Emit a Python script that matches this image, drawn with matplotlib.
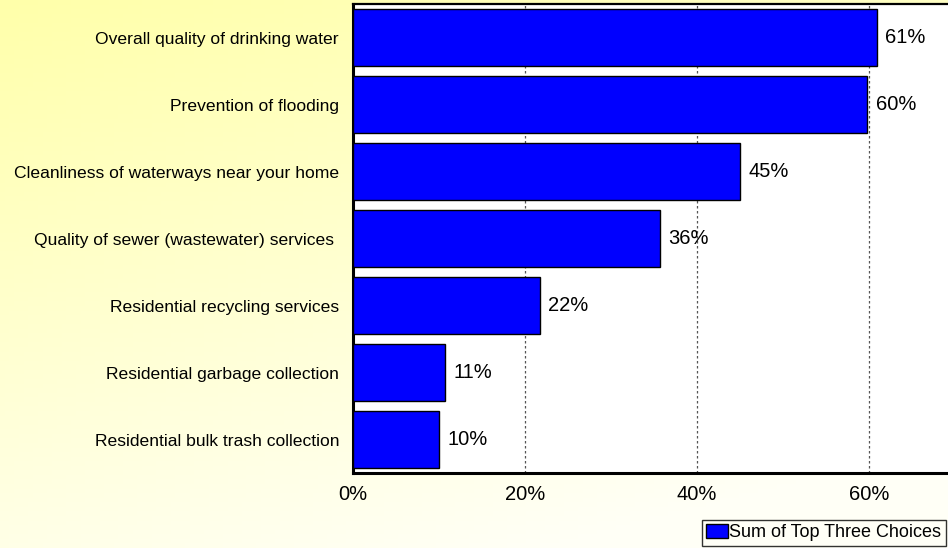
import numpy as np
import matplotlib
matplotlib.use("Agg")
import matplotlib.pyplot as plt

plt.rcParams['font.family'] = ['Liberation Sans', 'DejaVu Sans']

# data (share choosing the item in their top three)
categories = ['Overall quality of drinking water',
              'Prevention of flooding',
              'Cleanliness of waterways near your home',
              'Quality of sewer (wastewater) services ',
              'Residential recycling services',
              'Residential garbage collection',
              'Residential bulk trash collection']
values = [60.9, 59.8, 45.0, 35.7, 21.7, 10.7, 9.95]
xticks = [0, 20, 40, 60]
series_name = 'Sum of Top Three Choices'

fig = plt.figure(figsize=(9.48, 5.48), dpi=100)

# yellow -> cream gradient behind everything
bg = fig.add_axes([0, 0, 1, 1], zorder=-10)
gx, gy = np.meshgrid(np.linspace(0, 1, 200), np.linspace(0, 1, 120))
t = np.clip(0.8 * gy + 0.35 * gx, 0, 1)
top = np.array([255, 255, 170]) / 255.0
bot = np.array([255, 255, 246]) / 255.0
img = top[None, None, :] * (1 - t[..., None]) + bot[None, None, :] * t[..., None]
bg.imshow(img, aspect='auto', extent=[0, 1, 0, 1], origin='upper')
bg.axis('off')

ax = fig.add_axes([353 / 948, 75 / 548, 595 / 948, 469 / 548])
ax.set_facecolor('white')

ypos = np.arange(len(categories))
ax.barh(ypos, values, height=0.85, color='#0000FF', edgecolor='black',
        linewidth=1, zorder=3, label=series_name)
for y, v in zip(ypos, values):
    ax.text(v + 1.0, y, '%.0f%%' % v, va='center', ha='left', fontsize=14.5, zorder=4)

ax.set_ylim(len(categories) - 0.5, -0.5)
ax.set_xlim(0, 69.2)
ax.set_yticks(ypos)
ax.set_yticklabels(categories, fontsize=12.6)
ax.set_xticks(xticks)
ax.set_xticklabels(['%d%%' % x for x in xticks], fontsize=14.5)
ax.tick_params(axis='y', length=0, pad=10)
ax.tick_params(axis='x', length=0, pad=9)

ax.grid(axis='x', linestyle=(0, (2, 2)), color='#555555', linewidth=0.9, zorder=1)
ax.set_axisbelow(True)

ax.spines['left'].set_linewidth(2.2)
ax.spines['bottom'].set_linewidth(2.2)
ax.spines['top'].set_linewidth(1.6)
ax.spines['right'].set_visible(False)

leg = fig.legend(loc='lower right', bbox_to_anchor=(946 / 948, 2 / 548),
                 fontsize=13, frameon=True, fancybox=False, borderaxespad=0,
                 handlelength=1.2, handleheight=0.8, handletextpad=0.1,
                 borderpad=0.25)
leg.get_frame().set_edgecolor('black')
leg.get_frame().set_linewidth(1)
leg.get_frame().set_facecolor('none')

fig.savefig('out.png', dpi=100)
